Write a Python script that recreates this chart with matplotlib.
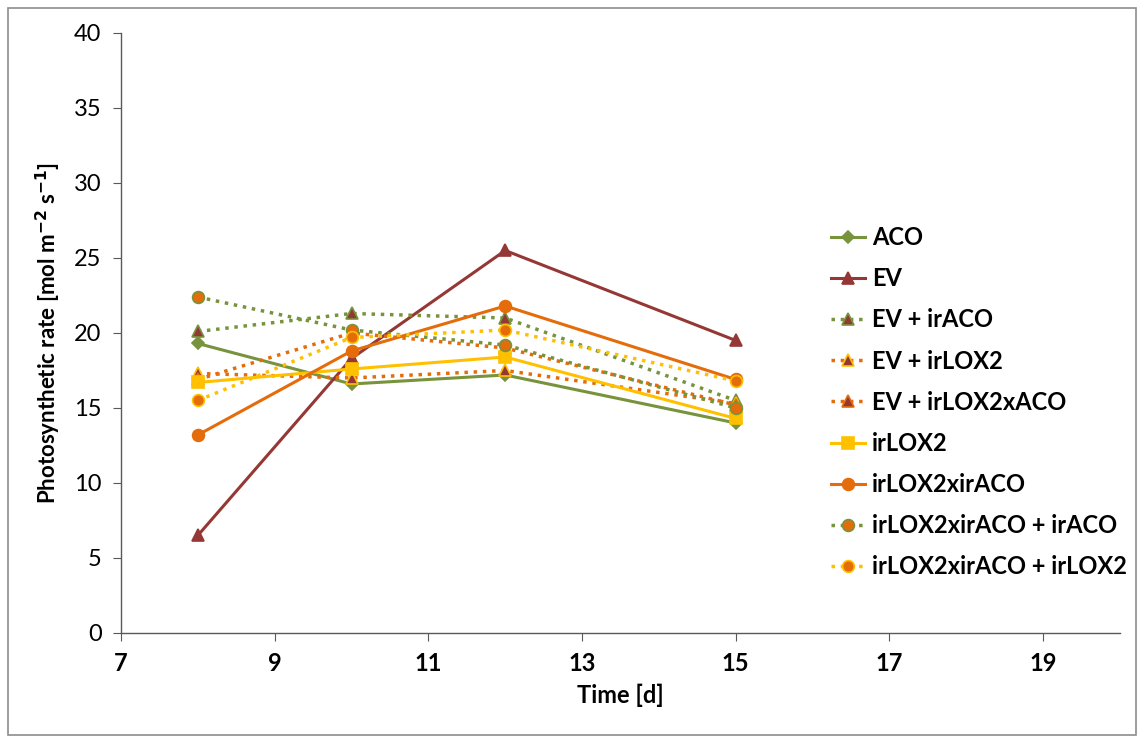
import matplotlib.pyplot as plt
from matplotlib.patches import Rectangle

plt.rcParams['font.family'] = ['Lato', 'DejaVu Sans']

days = [8, 10, 12, 15]

aco = [19.3, 16.6, 17.2, 14.0]
ev = [6.5, 18.3, 25.5, 19.5]
ev_iraco = [20.1, 21.3, 21.0, 15.5]
ev_irlox2 = [17.3, 17.0, 17.5, 15.3]
ev_irlox2xaco = [16.9, 20.0, 19.0, 15.2]
irlox2 = [16.7, 17.6, 18.4, 14.3]
irlox2xiraco = [13.2, 18.8, 21.8, 16.9]
irlox2xiraco_iraco = [22.4, 20.2, 19.2, 15.0]
irlox2xiraco_irlox2 = [15.5, 19.7, 20.2, 16.8]

green = '#77933C'
red = '#953735'
orange = '#E46C0A'
yellow = '#FFC000'

fig = plt.figure(figsize=(11.39, 7.38), dpi=100)
ax = fig.add_axes([0.1062, 0.1423, 0.8771, 0.813])

# outer chart border
fig.patches.append(Rectangle((0.007, 0.004), 0.99, 0.985, transform=fig.transFigure,
                             fill=False, edgecolor='#8c8c8c', linewidth=1.2))

# (values, line colour, linestyle, marker, marker face, marker edge, label)
series = [
    (aco, green, '-', 'D', green, green, 'ACO'),
    (ev, red, '-', '^', red, red, 'EV'),
    (ev_iraco, green, ':', '^', red, green, 'EV + irACO'),
    (ev_irlox2, orange, ':', '^', red, yellow, 'EV + irLOX2'),
    (ev_irlox2xaco, orange, ':', '^', red, orange, 'EV + irLOX2xACO'),
    (irlox2, yellow, '-', 's', yellow, yellow, 'irLOX2'),
    (irlox2xiraco, orange, '-', 'o', orange, orange, 'irLOX2xirACO'),
    (irlox2xiraco_iraco, green, ':', 'o', orange, green, 'irLOX2xirACO + irACO'),
    (irlox2xiraco_irlox2, yellow, ':', 'o', orange, yellow, 'irLOX2xirACO + irLOX2'),
]

for vals, lc, ls, mk, mf, me, lab in series:
    ms = 6.5 if mk == 'D' else 8.5
    ax.plot(days, vals, color=lc, linestyle=ls, linewidth=2.2 if ls == '-' else 2.5,
            marker=mk, markersize=ms, markerfacecolor=mf, markeredgecolor=me,
            markeredgewidth=1.2, label=lab)

ax.set_xlim(7, 20)
ax.set_ylim(0, 40)
ax.set_xticks([7, 9, 11, 13, 15, 17, 19])
ax.set_yticks(range(0, 41, 5))
for s in ['top', 'right']:
    ax.spines[s].set_visible(False)
for s in ['left', 'bottom']:
    ax.spines[s].set_color('#595959')
    ax.spines[s].set_linewidth(1.0)
ax.tick_params(axis='both', direction='out', length=6, color='#595959', labelsize=17)
for lbl in ax.get_xticklabels():
    lbl.set_fontweight('bold')
ax.tick_params(axis='x', pad=8)
ax.tick_params(axis='y', pad=8)

ax.set_xlabel('Time [d]', fontsize=17, fontweight='bold', labelpad=6)
ax.set_ylabel('Photosynthetic rate [mol m$^{\\mathbf{-2}}$ s$^{\\mathbf{-1}}$]',
              fontsize=16, fontweight='bold', labelpad=8)

leg = ax.legend(loc='upper left', bbox_to_anchor=(0.701, 0.694), frameon=False,
                prop={'weight': 'bold', 'size': 17}, labelspacing=0.77,
                handlelength=1.45, handletextpad=0.3, borderaxespad=0)

fig.savefig('out.png', dpi=100)
